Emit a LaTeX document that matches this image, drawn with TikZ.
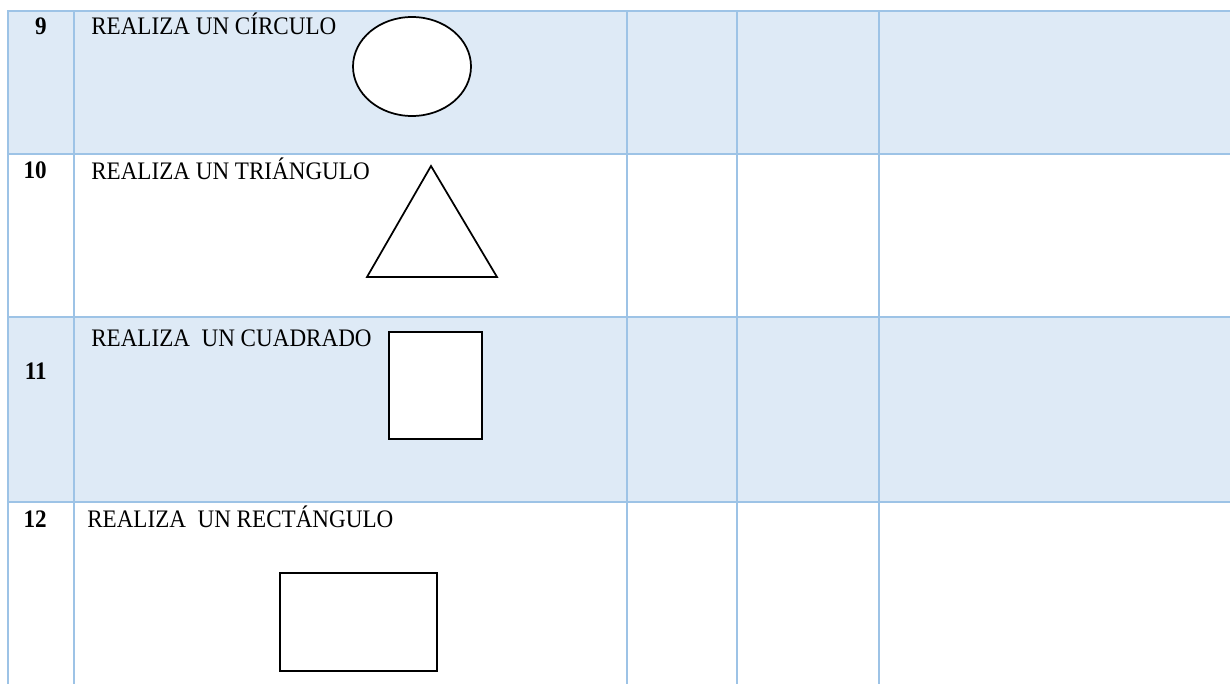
\documentclass[tikz,border=0pt]{standalone}
\usepackage{graphicx}
\usepackage{fontspec}
\setmainfont{Liberation Serif}
\definecolor{rowblue}{HTML}{DEEAF6}
\definecolor{gridblue}{HTML}{9DC3E6}
\newcommand{\tallt}[1]{\scalebox{0.99}[1.08]{#1}}
\begin{document}
\begin{tikzpicture}[x=0.75pt,y=-0.75pt,
  grid/.style={draw=gridblue,line width=1.5pt},
  shapeline/.style={draw=black,fill=white,line width=1.3pt},
  lbl/.style={inner sep=0pt,anchor=base west,font=\fontsize{17.5}{20}\selectfont},
  num/.style={inner sep=0pt,anchor=base east,font=\fontsize{17.5}{20}\selectfont\bfseries}]
\useasboundingbox (0,0) rectangle (1230,684);
\fill[white] (0,0) rectangle (1230,684);
% shaded rows
\fill[rowblue] (8,11) rectangle (1231,154);
\fill[rowblue] (8,317) rectangle (1231,502);
% horizontal lines
\foreach \yy in {11,154,317,502} \draw[grid] (7,\yy) -- (1232,\yy);
% vertical lines
\foreach \xx in {8,74,627,737,879} \draw[grid] (\xx,11) -- (\xx,686);
% texts
\node[num] (n9) at (47,35) {\tallt{9}};
\node[lbl] (t9) at (91,35) {\tallt{REALIZA UN CÍRCULO}};
\node[num] (n10) at (47,179) {\tallt{10}};
\node[lbl] (t10) at (91,180) {\tallt{REALIZA UN TRIÁNGULO}};
\node[lbl] (t11) at (91,346) {\tallt{REALIZA\ \ UN CUADRADO}};
\node[num] (n11) at (47,379) {\tallt{11}};
\node[num] (n12) at (47,527) {\tallt{12}};
\node[lbl] (t12) at (87,527) {\tallt{REALIZA\ \ UN RECTÁNGULO}};
% shapes
\draw[shapeline] (412,66.5) ellipse [x radius=59, y radius=49.5];
\draw[shapeline] (431,166) -- (497,277) -- (367,277) -- cycle;
\draw[shapeline] (389,332) rectangle (482,439);
\draw[shapeline] (280,573) rectangle (437,671);
\end{tikzpicture}
\end{document}
